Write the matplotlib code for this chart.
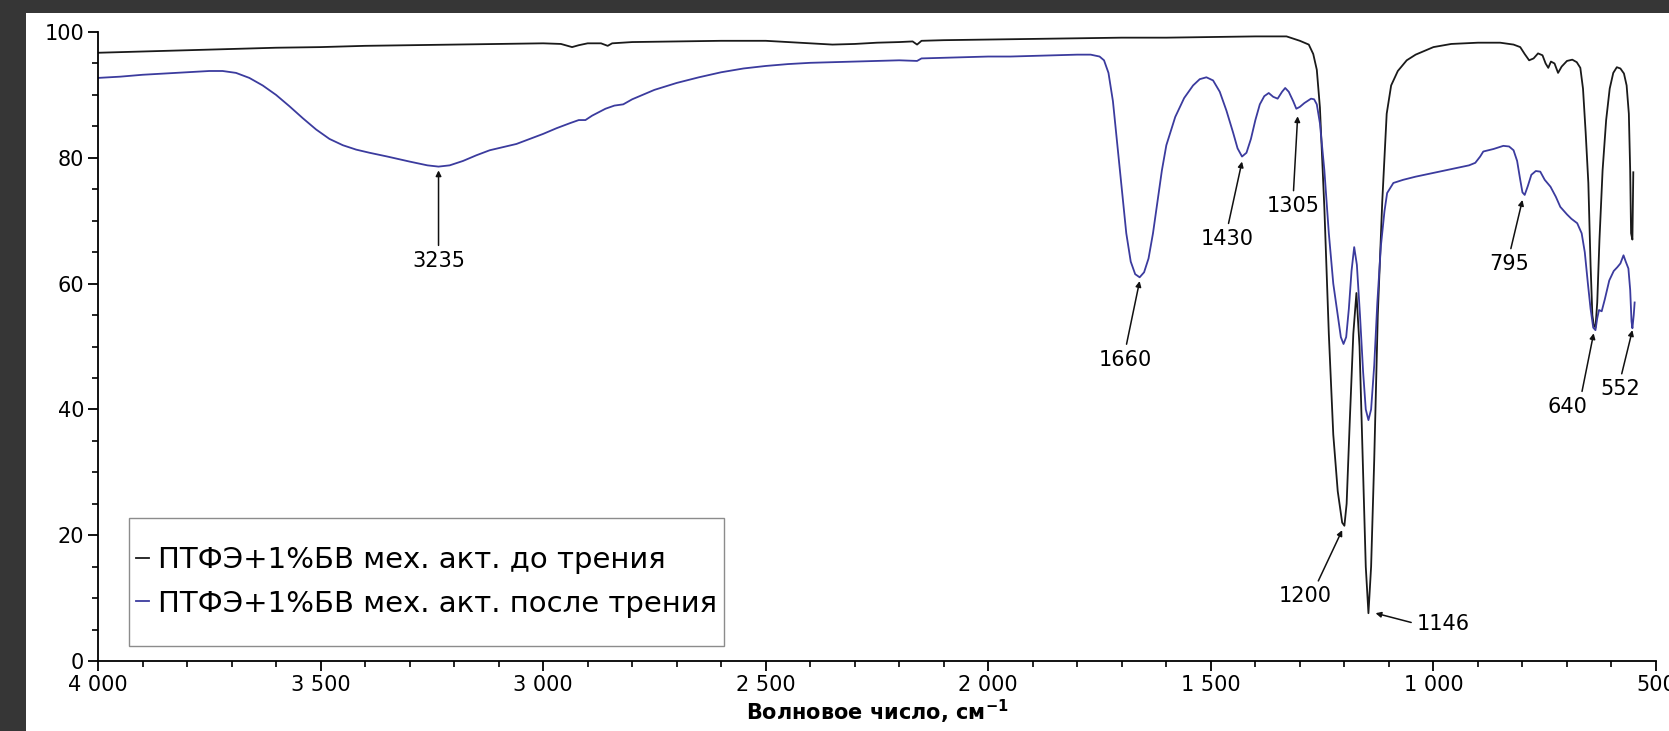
import matplotlib.pyplot as plt
from matplotlib.patches import Rectangle
from matplotlib.ticker import MultipleLocator, FuncFormatter

# ПТФЭ+1%БВ мех. акт. до трения (black)
before_x = [4000, 3900, 3800, 3700, 3600, 3500, 3400, 3300, 3200, 3100, 3000, 2960, 2935, 2920,
            2900, 2870, 2855, 2845, 2800, 2700, 2600, 2500, 2450, 2400, 2350, 2300, 2250, 2200,
            2170, 2160, 2150, 2100, 2000, 1900, 1800, 1700, 1600, 1500, 1400, 1330, 1300, 1280,
            1270, 1262, 1255, 1245, 1235, 1225, 1215, 1205, 1200, 1195, 1188, 1180, 1173, 1166,
            1158, 1152, 1146, 1140, 1133, 1125, 1115, 1105, 1095, 1080, 1060, 1040, 1000, 960,
            900, 850, 820, 805, 795, 785, 775, 765, 755, 748, 742, 736, 728, 720, 712, 700, 688,
            678, 670, 664, 658, 652, 647, 643, 640, 636, 632, 627, 620, 612, 604, 596, 588, 580,
            572, 566, 561, 558, 556, 553, 551]
before_y = [96.7, 96.9, 97.1, 97.3, 97.5, 97.6, 97.8, 97.9, 98.0, 98.1, 98.2, 98.1, 97.6, 97.9,
            98.2, 98.2, 97.8, 98.2, 98.4, 98.5, 98.6, 98.6, 98.4, 98.2, 98.0, 98.1, 98.3, 98.4,
            98.5, 98.0, 98.6, 98.7, 98.8, 98.9, 99.0, 99.1, 99.1, 99.2, 99.3, 99.3, 98.6, 98.0,
            96.5, 94.0, 88.0, 72.0, 52.0, 36.0, 27.0, 22.0, 21.5, 25.0, 38.0, 52.0, 58.5, 50.0,
            30.0, 15.0, 7.6, 15.0, 32.0, 55.0, 73.0, 87.0, 91.5, 93.8, 95.5, 96.4, 97.6, 98.1,
            98.3, 98.3, 98.0, 97.6, 96.5, 95.5, 95.8, 96.6, 96.3, 95.0, 94.3, 95.3, 95.0, 93.5,
            94.5, 95.4, 95.6, 95.2, 94.3, 91.0, 84.0, 76.0, 63.0, 55.0, 53.5, 53.0, 57.0, 67.0,
            78.0, 86.0, 91.0, 93.5, 94.4, 94.2, 93.4, 91.5, 87.0, 78.0, 68.0, 67.0, 77.7]

# ПТФЭ+1%БВ мех. акт. после трения (blue)
after_x = [4000, 3950, 3900, 3850, 3800, 3750, 3720, 3690, 3660, 3630, 3600, 3570, 3540, 3510,
           3480, 3450, 3420, 3390, 3350, 3300, 3260, 3235, 3210, 3180, 3150, 3120, 3090, 3060,
           3030, 3000, 2970, 2940, 2920, 2905, 2890, 2860, 2840, 2820, 2800, 2750, 2700, 2650,
           2600, 2550, 2500, 2450, 2400, 2350, 2300, 2250, 2200, 2160, 2150, 2100, 2050, 2000,
           1950, 1900, 1850, 1800, 1770, 1750, 1740, 1730, 1720, 1710, 1700, 1690, 1680, 1670,
           1660, 1650, 1640, 1630, 1620, 1610, 1600, 1580, 1560, 1540, 1525, 1510, 1495, 1480,
           1465, 1450, 1440, 1430, 1420, 1410, 1400, 1390, 1380, 1370, 1360, 1350, 1340, 1333,
           1325, 1315, 1308, 1300, 1290, 1275, 1268, 1262, 1255, 1245, 1235, 1225, 1215, 1208,
           1202, 1196, 1190, 1184, 1178, 1172, 1165, 1158, 1152, 1146, 1140, 1133, 1126, 1118,
           1110, 1104, 1090, 1068, 1040, 1000, 960, 920, 906, 895, 888, 865, 843, 830, 820, 812,
           805, 800, 795, 788, 780, 770, 760, 750, 737, 725, 715, 700, 690, 677, 667, 660, 653,
           647, 641, 636, 632, 628, 622, 615, 605, 595, 587, 580, 573, 568, 562, 558, 555, 553,
           550, 548]
after_y = [92.7, 92.9, 93.2, 93.4, 93.6, 93.8, 93.8, 93.5, 92.7, 91.5, 90.0, 88.2, 86.3, 84.5,
           83.0, 82.0, 81.3, 80.8, 80.2, 79.4, 78.8, 78.6, 78.8, 79.5, 80.4, 81.2, 81.7, 82.2,
           83.0, 83.8, 84.7, 85.5, 86.0, 86.0, 86.7, 87.8, 88.3, 88.5, 89.3, 90.8, 91.9, 92.8,
           93.6, 94.2, 94.6, 94.9, 95.1, 95.2, 95.3, 95.4, 95.5, 95.4, 95.8, 95.9, 96.0, 96.1,
           96.1, 96.2, 96.3, 96.4, 96.4, 96.1, 95.5, 93.5, 89.0, 82.0, 75.0, 68.0, 63.5, 61.5,
           61.0, 61.8, 64.0, 68.0, 73.0, 78.0, 82.0, 86.5, 89.5, 91.5, 92.5, 92.8, 92.3, 90.5,
           87.5, 84.0, 81.5, 80.2, 80.8, 83.0, 86.0, 88.5, 89.8, 90.3, 89.7, 89.4, 90.5, 91.1,
           90.5, 89.0, 87.8, 88.1, 88.7, 89.4, 89.3, 88.5, 85.5, 78.0, 68.0, 60.0, 55.0, 51.5,
           50.4, 51.5, 56.0, 62.0, 65.8, 63.0, 55.0, 46.0, 40.0, 38.3, 40.0, 47.0, 57.0, 66.0,
           71.5, 74.4, 76.0, 76.5, 77.0, 77.6, 78.2, 78.8, 79.2, 80.2, 81.0, 81.4, 81.9, 81.8,
           81.2, 79.5, 76.5, 74.5, 74.1, 75.5, 77.3, 77.9, 77.8, 76.5, 75.4, 73.8, 72.2, 71.0,
           70.3, 69.6, 68.0, 65.0, 60.0, 56.0, 53.0, 52.6, 54.5, 55.8, 55.6, 57.5, 60.5, 62.0,
           62.6, 63.2, 64.5, 63.5, 62.4, 59.0, 54.0, 52.9, 55.0, 57.0]

# peak labels: text, wavenumber, transmittance at arrow head
peak_labels = ['3235', '1660', '1430', '1305', '795', '640', '552', '1200', '1146']
peak_x = [3235, 1660, 1430, 1305, 800, 640, 553, 1205, 1130]
peak_y = [78.0, 60.4, 79.4, 86.6, 73.3, 52.1, 52.6, 20.8, 7.6]
# label centres
label_x = [3235, 1692, 1463, 1315, 829, 700, 580, 1288, 978]
label_y = [63.6, 47.9, 67.1, 72.3, 63.1, 40.4, 43.2, 10.3, 5.9]
# where the arrow leaves the label box
label_rel = [(0.5, 1), (0.5, 1), (0.5, 1), (0.5, 1), (0.5, 1), (0.85, 1), (0.5, 1), (0.7, 1),
             (0.0, 0.5)]

fig = plt.figure(figsize=(16.69, 7.31), dpi=100, facecolor='#363636')
fig.patches.append(Rectangle((26 / 1669, 0), 1, 1 - 13 / 731, transform=fig.transFigure,
                             facecolor='white', edgecolor='none', zorder=-10))
ax = fig.add_axes([98 / 1669, 1 - 661 / 731, 1558 / 1669, 629 / 731])
ax.set_facecolor('white')

ax.plot(before_x, before_y, color='#1a1a1a', lw=1.3, label='ПТФЭ+1%БВ мех. акт. до трения')
ax.plot(after_x, after_y, color='#3b3b9e', lw=1.3, label='ПТФЭ+1%БВ мех. акт. после трения')

for txt, px, py, tx, ty, rel in zip(peak_labels, peak_x, peak_y, label_x, label_y, label_rel):
    ax.annotate(txt, xy=(px, py), xytext=(tx, ty), ha='center', va='center', fontsize=15,
                arrowprops=dict(arrowstyle='-|>', color='#111111', lw=1.1, mutation_scale=8,
                                shrinkA=2, shrinkB=0, relpos=rel))

ax.set_xlim(4000, 500)
ax.set_ylim(0, 100)
ax.xaxis.set_major_locator(MultipleLocator(500))
ax.xaxis.set_minor_locator(MultipleLocator(100))
ax.yaxis.set_major_locator(MultipleLocator(20))
ax.yaxis.set_minor_locator(MultipleLocator(5))
ax.xaxis.set_major_formatter(FuncFormatter(lambda v, p: f'{int(v):,}'.replace(',', ' ')))

for s in ['top', 'right']:
    ax.spines[s].set_visible(False)
for s in ['left', 'bottom']:
    ax.spines[s].set_linewidth(1.3)
ax.tick_params(which='major', length=7, width=1.3, labelsize=15, pad=3)
ax.tick_params(which='minor', length=4, width=1.2)

ax.set_xlabel('Волновое число, см$^{\\mathbf{-1}}$', fontsize=15, fontweight='bold', labelpad=2)

leg = ax.legend(loc='lower left', bbox_to_anchor=(0.0244, 0.069), borderaxespad=0,
                fontsize=21, handlelength=0.45, handletextpad=0.3, frameon=False,
                borderpad=0, labelspacing=0.53)

# legend frame: narrow at the sides, roomy above and below
fig.canvas.draw()
bb = leg.get_window_extent().transformed(ax.transAxes.inverted())
padx = 7 / 1558
pady = 28 / 629
ax.add_patch(Rectangle((bb.x0 - padx, bb.y0 - pady), bb.width + 2 * padx, bb.height + 2 * pady,
                       transform=ax.transAxes, facecolor='white', edgecolor='#8c8c8c',
                       lw=1.0, zorder=4.9))

fig.savefig('out.png', dpi=100, facecolor=fig.get_facecolor())
